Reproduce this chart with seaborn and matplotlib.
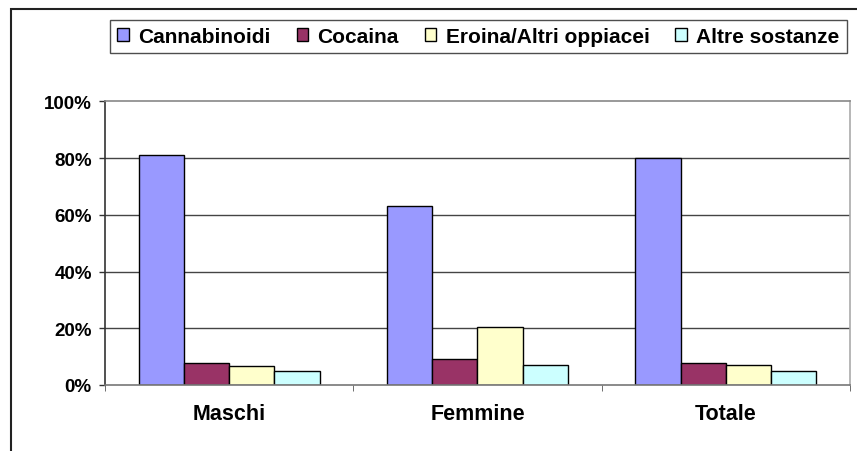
import pandas as pd
import numpy as np
import matplotlib.pyplot as plt
import seaborn as sns
from matplotlib.patches import Rectangle

# data (percent)
gruppi = ["Maschi", "Femmine", "Totale"]
sostanze = ["Cannabinoidi", "Cocaina", "Eroina/Altri oppiacei", "Altre sostanze"]
cannabinoidi = [81.0, 63.2, 80.0]
cocaina = [7.7, 9.1, 7.6]
eroina = [6.8, 20.5, 6.9]
altre = [5.0, 7.0, 5.0]
colori = ["#9999FF", "#993366", "#FFFFCC", "#CCFFFF"]
yticks = [0, 20, 40, 60, 80, 100]

df = pd.DataFrame({"Gruppo": gruppi * 4,
                   "Sostanza": np.repeat(sostanze, 3),
                   "Valore": cannabinoidi + cocaina + eroina + altre})

sns.set_style("white")
plt.rcParams["font.family"] = ["Liberation Sans", "DejaVu Sans"]
plt.rcParams["text.color"] = "black"
plt.rcParams["xtick.labelcolor"] = "black"
plt.rcParams["ytick.labelcolor"] = "black"

fig = plt.figure(figsize=(8.57, 4.52), dpi=100)
ax = fig.add_axes([105/857, 1-386/452, 745/857, (386-102.3)/452])

sns.barplot(data=df, x="Gruppo", y="Valore", hue="Sostanza", order=gruppi,
            hue_order=sostanze, palette=colori, width=0.73, edgecolor="black",
            linewidth=1.0, saturation=1, ax=ax, legend=True)

ax.set_ylim(0, 100)
ax.set_xlim(-0.5, 2.5)
ax.set_yticks(yticks)
ax.set_yticklabels([f"{v}%" for v in yticks], fontsize=13.5, fontweight="bold", color="black")
ax.set_xticklabels(gruppi, fontsize=15.5, fontweight="bold", color="black")
ax.set_xlabel("")
ax.set_ylabel("")
ax.tick_params(axis="y", direction="out", length=4.5, width=1, color="#333333", pad=5, left=True)
ax.tick_params(axis="x", which="major", length=0, pad=13)
ax.set_xticks([-0.5, 0.5, 1.5, 2.5], minor=True)
ax.tick_params(axis="x", which="minor", direction="out", length=4, color="#555555", bottom=True)
for v in yticks[1:-1]:
    ax.axhline(v, color="#444444", linewidth=1, zorder=0)
ax.set_axisbelow(True)
ax.spines["left"].set_color("#333333")
ax.spines["bottom"].set_color("#777777")
ax.spines["top"].set_color("#888888")
ax.spines["right"].set_color("#aaaaaa")
for s in ax.spines.values():
    s.set_linewidth(1.2)

# legend on top in a box
handles, labels = ax.get_legend_handles_labels()
ax.get_legend().remove()
leg = fig.legend(handles, labels, loc="center", ncol=4, mode="expand",
                 bbox_to_anchor=(110/857, 1-58/452, 737/857, 41/452),
                 prop={"weight": "bold", "size": 15}, frameon=True,
                 fancybox=False, edgecolor="#222222", handlelength=0.56,
                 handleheight=0.56, handletextpad=0.45, columnspacing=0.6,
                 borderpad=0.35, borderaxespad=0, labelcolor="black")
leg.get_frame().set_linewidth(1)

# outer chart frame
fig.patches.append(Rectangle((11/857, -0.1), 1.2, 1.1-10/452, transform=fig.transFigure,
                             fill=False, edgecolor="#222222", linewidth=1.5))

fig.savefig("out.png", dpi=100)
